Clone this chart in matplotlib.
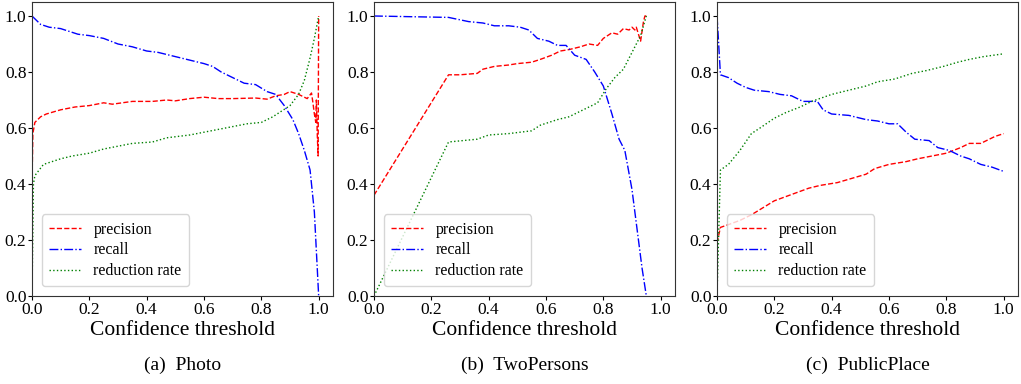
import matplotlib
matplotlib.use("Agg")
import matplotlib.pyplot as plt

# ---- Data ----
photo_prec_x = [0.0, 0.003, 0.01, 0.03, 0.05, 0.1, 0.15, 0.2, 0.25, 0.28, 0.35, 0.42, 0.47, 0.5, 0.55, 0.6,
                0.65, 0.7, 0.78, 0.82, 0.85, 0.88, 0.9, 0.93, 0.95, 0.96, 0.975, 0.98, 0.985, 0.99, 0.992,
                0.995, 0.998, 0.999, 1.0]
photo_prec_y = [0.40, 0.58, 0.62, 0.64, 0.65, 0.665, 0.675, 0.68, 0.69, 0.685, 0.695, 0.695, 0.70, 0.697, 0.705,
                0.71, 0.705, 0.705, 0.707, 0.703, 0.715, 0.72, 0.73, 0.72, 0.71, 0.705, 0.725, 0.69, 0.65,
                0.62, 0.70, 0.58, 0.50, 0.75, 1.0]
photo_rec_x = [0.0, 0.03, 0.06, 0.1, 0.13, 0.16, 0.2, 0.25, 0.3, 0.35, 0.4, 0.44, 0.48, 0.52, 0.56, 0.6, 0.63,
               0.66, 0.7, 0.74, 0.78, 0.82, 0.85, 0.88, 0.91, 0.93, 0.95, 0.97, 0.985, 0.995, 1.0]
photo_rec_y = [1.0, 0.97, 0.96, 0.955, 0.945, 0.935, 0.93, 0.92, 0.90, 0.89, 0.875, 0.87, 0.86, 0.85, 0.84, 0.83,
               0.82, 0.80, 0.78, 0.76, 0.755, 0.73, 0.72, 0.68, 0.63, 0.58, 0.52, 0.45, 0.30, 0.10, 0.0]
photo_red_x = [0.0, 0.005, 0.01, 0.04, 0.07, 0.1, 0.14, 0.2, 0.25, 0.3, 0.35, 0.42, 0.47, 0.55, 0.6, 0.65, 0.7,
               0.75, 0.8, 0.84, 0.87, 0.9, 0.93, 0.95, 0.97, 0.985, 1.0]
photo_red_y = [0.0, 0.40, 0.43, 0.47, 0.48, 0.49, 0.50, 0.51, 0.525, 0.535, 0.545, 0.55, 0.565, 0.575, 0.585,
               0.595, 0.605, 0.615, 0.62, 0.64, 0.66, 0.68, 0.72, 0.77, 0.85, 0.92, 1.0]

two_prec_x = [0.0, 0.26, 0.3, 0.36, 0.38, 0.42, 0.47, 0.5, 0.55, 0.58, 0.62, 0.65, 0.68, 0.72, 0.75, 0.78, 0.8,
              0.83, 0.85, 0.87, 0.89, 0.9, 0.91, 0.915, 0.93, 0.94, 0.945, 0.95]
two_prec_y = [0.36, 0.79, 0.79, 0.795, 0.81, 0.82, 0.825, 0.83, 0.835, 0.845, 0.86, 0.875, 0.88, 0.89, 0.90, 0.895,
              0.92, 0.94, 0.935, 0.955, 0.95, 0.96, 0.95, 0.96, 0.91, 0.98, 1.0, 1.0]
two_rec_x = [0.0, 0.26, 0.33, 0.38, 0.42, 0.47, 0.51, 0.54, 0.57, 0.61, 0.64, 0.67, 0.7, 0.74, 0.77, 0.8, 0.83,
             0.855, 0.875, 0.9, 0.92, 0.935, 0.95]
two_rec_y = [1.0, 0.995, 0.98, 0.975, 0.965, 0.965, 0.96, 0.95, 0.92, 0.91, 0.895, 0.895, 0.86, 0.845, 0.80, 0.75,
             0.65, 0.56, 0.52, 0.38, 0.22, 0.10, 0.0]
two_red_x = [0.0, 0.26, 0.36, 0.4, 0.47, 0.55, 0.58, 0.64, 0.68, 0.73, 0.78, 0.81, 0.84, 0.87, 0.9, 0.93, 0.95]
two_red_y = [0.0, 0.55, 0.56, 0.575, 0.58, 0.59, 0.61, 0.63, 0.64, 0.665, 0.69, 0.74, 0.78, 0.81, 0.87, 0.93, 1.0]

pub_prec_x = [0.0, 0.012, 0.04, 0.08, 0.12, 0.16, 0.2, 0.24, 0.28, 0.32, 0.36, 0.42, 0.47, 0.52, 0.55, 0.6,
              0.66, 0.7, 0.75, 0.8, 0.85, 0.88, 0.92, 0.95, 0.97, 1.0]
pub_prec_y = [0.19, 0.245, 0.255, 0.27, 0.29, 0.315, 0.34, 0.355, 0.37, 0.385, 0.395, 0.405, 0.42, 0.435, 0.455,
              0.47, 0.48, 0.49, 0.50, 0.51, 0.53, 0.545, 0.545, 0.56, 0.57, 0.58]
pub_rec_x = [0.0, 0.003, 0.012, 0.04, 0.07, 0.1, 0.13, 0.18, 0.22, 0.26, 0.3, 0.35, 0.37, 0.4, 0.46, 0.52, 0.56,
             0.6, 0.63, 0.66, 0.69, 0.74, 0.77, 0.81, 0.85, 0.88, 0.92, 0.96, 1.0]
pub_rec_y = [1.0, 0.95, 0.79, 0.78, 0.76, 0.745, 0.735, 0.73, 0.72, 0.715, 0.695, 0.695, 0.665, 0.65, 0.645, 0.63,
             0.625, 0.615, 0.615, 0.585, 0.56, 0.555, 0.53, 0.52, 0.50, 0.49, 0.47, 0.46, 0.445]
pub_red_x = [0.0, 0.012, 0.04, 0.08, 0.12, 0.15, 0.2, 0.24, 0.29, 0.33, 0.4, 0.46, 0.52, 0.56, 0.62, 0.68, 0.73,
             0.79, 0.84, 0.88, 0.93, 1.0]
pub_red_y = [0.0, 0.45, 0.47, 0.52, 0.58, 0.60, 0.635, 0.655, 0.675, 0.695, 0.72, 0.735, 0.75, 0.765, 0.775,
             0.795, 0.805, 0.82, 0.835, 0.845, 0.855, 0.865]

captions = ["(a)  Photo", "(b)  TwoPersons", "(c)  PublicPlace"]
xlabel = "Confidence threshold"
legend_labels = ["precision", "recall", "reduction rate"]
xticks = [0.0, 0.2, 0.4, 0.6, 0.8, 1.0]
yticks = [0.0, 0.2, 0.4, 0.6, 0.8, 1.0]

panels = [
    (photo_prec_x, photo_prec_y, photo_rec_x, photo_rec_y, photo_red_x, photo_red_y),
    (two_prec_x, two_prec_y, two_rec_x, two_rec_y, two_red_x, two_red_y),
    (pub_prec_x, pub_prec_y, pub_rec_x, pub_rec_y, pub_red_x, pub_red_y),
]

plt.rcParams['font.family'] = ['Liberation Serif', 'DejaVu Serif']

fig = plt.figure(figsize=(10.21, 3.84), dpi=100)
lefts = [32 / 1021, 374 / 1021, 717 / 1021]
W = 301 / 1021
B = 88 / 384
H = 294 / 384

for i, (px, py, rx, ry, gx, gy) in enumerate(panels):
    ax = fig.add_axes([lefts[i], B, W, H])
    ax.plot(px, py, color='red', linestyle='--', linewidth=1.0, label=legend_labels[0])
    ax.plot(rx, ry, color='blue', linestyle='-.', linewidth=1.0, label=legend_labels[1])
    ax.plot(gx, gy, color='green', linestyle=':', linewidth=1.0, label=legend_labels[2])
    ax.set_xlim(0, 1.05)
    ax.set_ylim(0, 1.05)
    ax.set_xticks(xticks)
    ax.set_yticks(yticks)
    ax.set_xticklabels([f"{t:.1f}" for t in xticks])
    ax.set_yticklabels([f"{t:.1f}" for t in yticks])
    ax.tick_params(labelsize=12.5, length=3, width=0.8, pad=1)
    for s in ax.spines.values():
        s.set_color('#333333')
        s.set_linewidth(0.8)
    ax.set_xlabel(xlabel, fontsize=15.5, labelpad=2.5)
    leg = ax.legend(loc='lower left', fontsize=11.5, frameon=True, fancybox=True,
                    handlelength=2.0, labelspacing=0.3, borderpad=0.45,
                    borderaxespad=0.6, bbox_to_anchor=(0.0, 0.0))
    leg.get_frame().set_edgecolor('#cccccc')
    fig.text(lefts[i] + W / 2, 19 / 384, captions[i], ha='center', va='center', fontsize=14)

fig.savefig("out.png", dpi=100)
